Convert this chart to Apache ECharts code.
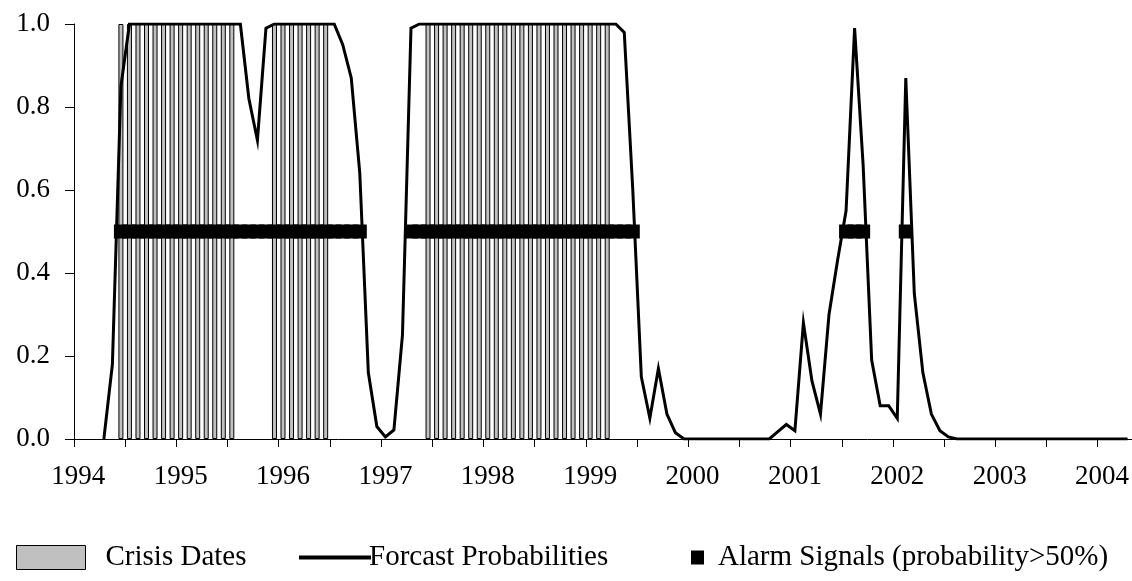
<!DOCTYPE html>
<html>
<head>
<meta charset="utf-8">
<script src="https://cdn.jsdelivr.net/npm/echarts@6/dist/echarts.min.js"></script>
<style>
html,body{margin:0;padding:0;background:#fff;}
#chart{width:1132px;height:581px;}
</style>
</head>
<body>
<div id="chart"></div>
<script>
// Monthly categories, Jan 1994 - Apr 2004
var months = [
 '1994-01','1994-02','1994-03','1994-04','1994-05','1994-06','1994-07','1994-08','1994-09','1994-10','1994-11','1994-12',
 '1995-01','1995-02','1995-03','1995-04','1995-05','1995-06','1995-07','1995-08','1995-09','1995-10','1995-11','1995-12',
 '1996-01','1996-02','1996-03','1996-04','1996-05','1996-06','1996-07','1996-08','1996-09','1996-10','1996-11','1996-12',
 '1997-01','1997-02','1997-03','1997-04','1997-05','1997-06','1997-07','1997-08','1997-09','1997-10','1997-11','1997-12',
 '1998-01','1998-02','1998-03','1998-04','1998-05','1998-06','1998-07','1998-08','1998-09','1998-10','1998-11','1998-12',
 '1999-01','1999-02','1999-03','1999-04','1999-05','1999-06','1999-07','1999-08','1999-09','1999-10','1999-11','1999-12',
 '2000-01','2000-02','2000-03','2000-04','2000-05','2000-06','2000-07','2000-08','2000-09','2000-10','2000-11','2000-12',
 '2001-01','2001-02','2001-03','2001-04','2001-05','2001-06','2001-07','2001-08','2001-09','2001-10','2001-11','2001-12',
 '2002-01','2002-02','2002-03','2002-04','2002-05','2002-06','2002-07','2002-08','2002-09','2002-10','2002-11','2002-12',
 '2003-01','2003-02','2003-03','2003-04','2003-05','2003-06','2003-07','2003-08','2003-09','2003-10','2003-11','2003-12',
 '2004-01','2004-02','2004-03','2004-04'
];

// Forecast probabilities (monthly)
var forecast = [
 null,null,null,0,0.18,0.85,1,1,1,1,1,1,
 1,1,1,1,1,1,1,1,0.82,0.72,0.99,1,
 1,1,1,1,1,1,1,0.95,0.87,0.64,0.16,0.03,
 0.005,0.022,0.25,0.99,1,1,1,1,1,1,1,1,
 1,1,1,1,1,1,1,1,1,1,1,1,
 1,1,1,1,0.98,0.6,0.15,0.05,0.17,0.06,0.015,0,
 0,0,0,0,0,0,0,0,0,0,0.018,0.035,
 0.02,0.28,0.14,0.06,0.30,0.43,0.55,0.99,0.66,0.19,0.08,0.08,
 0.05,0.87,0.35,0.16,0.06,0.02,0.005,0,0,0,0,0,
 0,0,0,0,0,0,0,0,0,0,0,0,
 0,0,0,0
];

// Crisis dates (1 = crisis month)
var crisis = [
 null,null,null,null,null,1,1,1,1,1,1,1,
 1,1,1,1,1,1,1,null,null,null,null,1,
 1,1,1,1,1,1,null,null,null,null,null,null,
 null,null,null,null,null,1,1,1,1,1,1,1,
 1,1,1,1,1,1,1,1,1,1,1,1,
 1,1,1,null,null,null,null,null,null,null,null,null,
 null,null,null,null,null,null,null,null,null,null,null,null,
 null,null,null,null,null,null,null,null,null,null,null,null,
 null,null,null,null,null,null,null,null,null,null,null,null,
 null,null,null,null,null,null,null,null,null,null,null,null,
 null,null,null,null
];

// Alarm signals (probability > 50%), drawn at 0.5
var alarm = [
 null,null,null,null,null,0.5,0.5,0.5,0.5,0.5,0.5,0.5,
 0.5,0.5,0.5,0.5,0.5,0.5,0.5,0.5,0.5,0.5,0.5,0.5,
 0.5,0.5,0.5,0.5,0.5,0.5,0.5,0.5,0.5,0.5,null,null,
 null,null,null,0.5,0.5,0.5,0.5,0.5,0.5,0.5,0.5,0.5,
 0.5,0.5,0.5,0.5,0.5,0.5,0.5,0.5,0.5,0.5,0.5,0.5,
 0.5,0.5,0.5,0.5,0.5,0.5,null,null,null,null,null,null,
 null,null,null,null,null,null,null,null,null,null,null,null,
 null,null,null,null,null,null,0.5,0.5,0.5,null,null,null,
 null,0.5,null,null,null,null,null,null,null,null,null,null,
 null,null,null,null,null,null,null,null,null,null,null,null,
 null,null,null,null
];

var yTicks = [0, 0.2, 0.4, 0.6, 0.8, 1.0];
var seriesNames = ['Crisis Dates', 'Forcast Probabilities', 'Alarm Signals (probability>50%)'];

var FONT = 'Liberation Serif';
var FS = 27;
var LFS = 29;

var chart = echarts.init(document.getElementById('chart'), null, {renderer: 'canvas'});
chart.setOption({
  animation: false,
  backgroundColor: '#ffffff',
  textStyle: {fontFamily: FONT, color: '#000'},
  grid: {left: 74, right: 0, top: 24, bottom: 142, containLabel: false},
  legend: [
    {
      data: [{name: seriesNames[0], icon: 'rect'}],
      left: 11, top: 538,
      itemWidth: 69, itemHeight: 24, itemGap: 0,
      textStyle: {fontFamily: FONT, fontSize: LFS, color: '#000', padding: [0,0,0,15]},
      itemStyle: {color: '#c0c0c0', borderColor: '#000', borderWidth: 1, opacity: 1},
      selectedMode: false
    },
    {
      data: [{name: seriesNames[1], icon: 'rect'}],
      left: 294, top: 538,
      itemWidth: 72, itemHeight: 4, itemGap: 0,
      textStyle: {fontFamily: FONT, fontSize: LFS, color: '#000', padding: [0,0,0,-7]},
      itemStyle: {color: '#000', borderWidth: 0},
      selectedMode: false
    },
    {
      data: [{name: seriesNames[2], icon: 'rect'}],
      left: 686, top: 538,
      itemWidth: 13, itemHeight: 14, itemGap: 0,
      textStyle: {fontFamily: FONT, fontSize: LFS, color: '#000', padding: [0,0,0,9]},
      itemStyle: {color: '#000', borderWidth: 0, opacity: 1},
      selectedMode: false
    }
  ],
  xAxis: {
    type: 'category',
    data: months,
    boundaryGap: true,
    axisLine: {show: true, lineStyle: {color: '#000', width: 1}},
    axisTick: {show: true, interval: 5, length: 8, lineStyle: {color: '#000', width: 1}},
    axisLabel: {
      interval: 11, margin: 24, color: '#000', fontFamily: FONT, fontSize: FS,
      formatter: function (v) { return v.slice(0, 4); }
    },
    splitLine: {show: false}
  },
  yAxis: {
    type: 'value',
    min: yTicks[0], max: yTicks[yTicks.length - 1], interval: 0.2,
    axisLine: {show: true, lineStyle: {color: '#000', width: 1}},
    axisTick: {show: true, length: 9, lineStyle: {color: '#000', width: 1}},
    axisLabel: {
      margin: 24, color: '#000', fontFamily: FONT, fontSize: FS,
      formatter: function (v) { return v.toFixed(1); }
    },
    splitLine: {show: false}
  },
  series: [
    {
      name: seriesNames[0],
      type: 'bar',
      data: crisis,
      barWidth: 5,
      itemStyle: {color: '#c0c0c0', borderColor: '#000', borderWidth: 1},
      z: 1
    },
    {
      name: seriesNames[1],
      type: 'line',
      data: forecast,
      showSymbol: false,
      symbol: 'none',
      lineStyle: {color: '#000', width: 3, join: 'miter', cap: 'butt'},
      itemStyle: {color: '#000'},
      z: 3
    },
    {
      name: seriesNames[2],
      type: 'scatter',
      data: alarm,
      symbol: 'rect',
      symbolSize: 14,
      itemStyle: {color: '#000', opacity: 1},
      z: 4
    }
  ]
});
</script>
</body>
</html>
